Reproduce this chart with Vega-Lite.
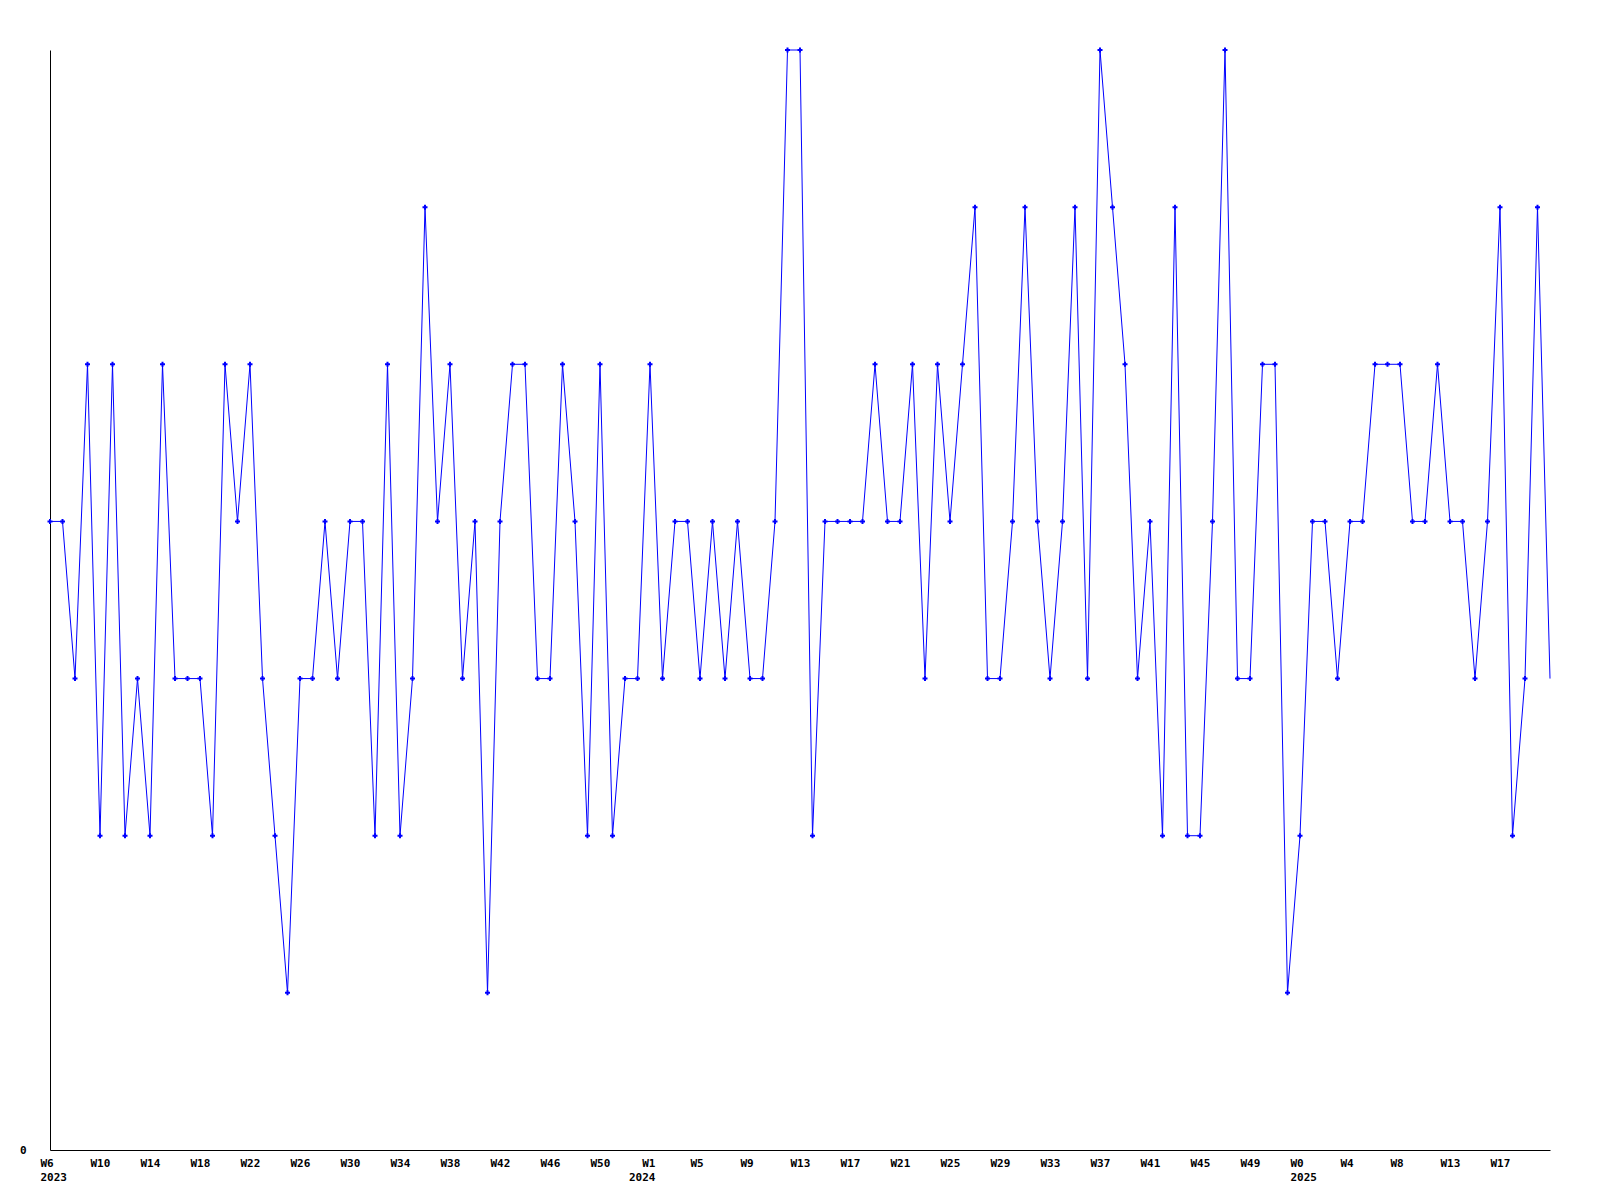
{
  "$schema": "https://vega.github.io/schema/vega-lite/v6.json",
  "width": 1500,
  "height": 1100,
  "autosize": {"type": "none"},
  "padding": {"left": 50, "top": 50, "right": 50, "bottom": 50},
  "background": "white",
  "config": {
    "view": {"stroke": null},
    "axis": {"labelFont": "DejaVu Sans Mono", "labelFontWeight": "bold", "labelFontSize": 11, "labelColor": "black", "domainColor": "black", "domainWidth": 1, "grid": false, "ticks": false, "title": null}
  },
  "data": {
    "format": {"parse": {"date": "date"}},
    "values": [
      {"date": "2023-02-05", "value": 4}, {"date": "2023-02-12", "value": 4}, {"date": "2023-02-19", "value": 3}, {"date": "2023-02-26", "value": 5},
      {"date": "2023-03-05", "value": 2}, {"date": "2023-03-12", "value": 5}, {"date": "2023-03-19", "value": 2}, {"date": "2023-03-26", "value": 3},
      {"date": "2023-04-02", "value": 2}, {"date": "2023-04-09", "value": 5}, {"date": "2023-04-16", "value": 3}, {"date": "2023-04-23", "value": 3}, {"date": "2023-04-30", "value": 3},
      {"date": "2023-05-07", "value": 2}, {"date": "2023-05-14", "value": 5}, {"date": "2023-05-21", "value": 4}, {"date": "2023-05-28", "value": 5},
      {"date": "2023-06-04", "value": 3}, {"date": "2023-06-11", "value": 2}, {"date": "2023-06-18", "value": 1}, {"date": "2023-06-25", "value": 3},
      {"date": "2023-07-02", "value": 3}, {"date": "2023-07-09", "value": 4}, {"date": "2023-07-16", "value": 3}, {"date": "2023-07-23", "value": 4}, {"date": "2023-07-30", "value": 4},
      {"date": "2023-08-06", "value": 2}, {"date": "2023-08-13", "value": 5}, {"date": "2023-08-20", "value": 2}, {"date": "2023-08-27", "value": 3},
      {"date": "2023-09-03", "value": 6}, {"date": "2023-09-10", "value": 4}, {"date": "2023-09-17", "value": 5}, {"date": "2023-09-24", "value": 3},
      {"date": "2023-10-01", "value": 4}, {"date": "2023-10-08", "value": 1}, {"date": "2023-10-15", "value": 4}, {"date": "2023-10-22", "value": 5}, {"date": "2023-10-29", "value": 5},
      {"date": "2023-11-05", "value": 3}, {"date": "2023-11-12", "value": 3}, {"date": "2023-11-19", "value": 5}, {"date": "2023-11-26", "value": 4},
      {"date": "2023-12-03", "value": 2}, {"date": "2023-12-10", "value": 5}, {"date": "2023-12-17", "value": 2}, {"date": "2023-12-24", "value": 3}, {"date": "2023-12-31", "value": 3},
      {"date": "2024-01-07", "value": 5}, {"date": "2024-01-14", "value": 3}, {"date": "2024-01-21", "value": 4}, {"date": "2024-01-28", "value": 4},
      {"date": "2024-02-04", "value": 3}, {"date": "2024-02-11", "value": 4}, {"date": "2024-02-18", "value": 3}, {"date": "2024-02-25", "value": 4},
      {"date": "2024-03-03", "value": 3}, {"date": "2024-03-10", "value": 3}, {"date": "2024-03-17", "value": 4}, {"date": "2024-03-24", "value": 7}, {"date": "2024-03-31", "value": 7},
      {"date": "2024-04-07", "value": 2}, {"date": "2024-04-14", "value": 4}, {"date": "2024-04-21", "value": 4}, {"date": "2024-04-28", "value": 4},
      {"date": "2024-05-05", "value": 4}, {"date": "2024-05-12", "value": 5}, {"date": "2024-05-19", "value": 4}, {"date": "2024-05-26", "value": 4},
      {"date": "2024-06-02", "value": 5}, {"date": "2024-06-09", "value": 3}, {"date": "2024-06-16", "value": 5}, {"date": "2024-06-23", "value": 4}, {"date": "2024-06-30", "value": 5},
      {"date": "2024-07-07", "value": 6}, {"date": "2024-07-14", "value": 3}, {"date": "2024-07-21", "value": 3}, {"date": "2024-07-28", "value": 4},
      {"date": "2024-08-04", "value": 6}, {"date": "2024-08-11", "value": 4}, {"date": "2024-08-18", "value": 3}, {"date": "2024-08-25", "value": 4},
      {"date": "2024-09-01", "value": 6}, {"date": "2024-09-08", "value": 3}, {"date": "2024-09-15", "value": 7}, {"date": "2024-09-22", "value": 6}, {"date": "2024-09-29", "value": 5},
      {"date": "2024-10-06", "value": 3}, {"date": "2024-10-13", "value": 4}, {"date": "2024-10-20", "value": 2}, {"date": "2024-10-27", "value": 6},
      {"date": "2024-11-03", "value": 2}, {"date": "2024-11-10", "value": 2}, {"date": "2024-11-17", "value": 4}, {"date": "2024-11-24", "value": 7},
      {"date": "2024-12-01", "value": 3}, {"date": "2024-12-08", "value": 3}, {"date": "2024-12-15", "value": 5}, {"date": "2024-12-22", "value": 5}, {"date": "2024-12-29", "value": 1},
      {"date": "2025-01-05", "value": 2}, {"date": "2025-01-12", "value": 4}, {"date": "2025-01-19", "value": 4}, {"date": "2025-01-26", "value": 3},
      {"date": "2025-02-02", "value": 4}, {"date": "2025-02-09", "value": 4}, {"date": "2025-02-16", "value": 5}, {"date": "2025-02-23", "value": 5},
      {"date": "2025-03-02", "value": 5}, {"date": "2025-03-09", "value": 4}, {"date": "2025-03-16", "value": 4}, {"date": "2025-03-23", "value": 5}, {"date": "2025-03-30", "value": 4},
      {"date": "2025-04-06", "value": 4}, {"date": "2025-04-13", "value": 3}, {"date": "2025-04-20", "value": 4}, {"date": "2025-04-27", "value": 6},
      {"date": "2025-05-04", "value": 2}, {"date": "2025-05-11", "value": 3}, {"date": "2025-05-18", "value": 6}, {"date": "2025-05-25", "value": 3}
    ]
  },
  "encoding": {
    "x": {
      "field": "date",
      "type": "temporal",
      "scale": {"type": "utc", "nice": false},
      "axis": {
        "values": [
          {"year": 2023, "month": 2, "date": 5, "utc": true}, {"year": 2023, "month": 3, "date": 5, "utc": true}, {"year": 2023, "month": 4, "date": 2, "utc": true}, {"year": 2023, "month": 4, "date": 30, "utc": true},
          {"year": 2023, "month": 5, "date": 28, "utc": true}, {"year": 2023, "month": 6, "date": 25, "utc": true}, {"year": 2023, "month": 7, "date": 23, "utc": true}, {"year": 2023, "month": 8, "date": 20, "utc": true},
          {"year": 2023, "month": 9, "date": 17, "utc": true}, {"year": 2023, "month": 10, "date": 15, "utc": true}, {"year": 2023, "month": 11, "date": 12, "utc": true}, {"year": 2023, "month": 12, "date": 10, "utc": true},
          {"year": 2024, "month": 1, "date": 7, "utc": true}, {"year": 2024, "month": 2, "date": 4, "utc": true}, {"year": 2024, "month": 3, "date": 3, "utc": true}, {"year": 2024, "month": 3, "date": 31, "utc": true},
          {"year": 2024, "month": 4, "date": 28, "utc": true}, {"year": 2024, "month": 5, "date": 26, "utc": true}, {"year": 2024, "month": 6, "date": 23, "utc": true}, {"year": 2024, "month": 7, "date": 21, "utc": true},
          {"year": 2024, "month": 8, "date": 18, "utc": true}, {"year": 2024, "month": 9, "date": 15, "utc": true}, {"year": 2024, "month": 10, "date": 13, "utc": true}, {"year": 2024, "month": 11, "date": 10, "utc": true},
          {"year": 2024, "month": 12, "date": 8, "utc": true}, {"year": 2025, "month": 1, "date": 5, "utc": true}, {"year": 2025, "month": 2, "date": 2, "utc": true}, {"year": 2025, "month": 3, "date": 2, "utc": true},
          {"year": 2025, "month": 3, "date": 30, "utc": true}, {"year": 2025, "month": 4, "date": 27, "utc": true}
        ],
        "labelExpr": "[['W6','2023'],'W10','W14','W18','W22','W26','W30','W34','W38','W42','W46','W50',['W1','2024'],'W5','W9','W13','W17','W21','W25','W29','W33','W37','W41','W45','W49',['W0','2025'],'W4','W8','W13','W17'][round((datum.value - utc(2023,1,5)) / 2419200000)]",
        "labelAlign": {"condition": {"test": "utcyear(datum.value) == 2024 && utcmonth(datum.value) == 0", "value": "right"}, "value": "left"},
        "labelOffset": {"condition": {"test": "utcyear(datum.value) == 2024 && utcmonth(datum.value) == 0", "value": 5}, "value": -10},
        "labelBaseline": "top",
        "labelPadding": 7,
        "labelLineHeight": 14,
        "labelFlush": false,
        "labelOverlap": false,
        "labelBound": false
      }
    },
    "y": {
      "field": "value",
      "type": "quantitative",
      "scale": {"domain": [0, 7], "nice": false, "zero": true},
      "axis": {"values": [0], "labelPadding": 24, "labelBaseline": "middle"}
    }
  },
  "layer": [
    {"mark": {"type": "line", "color": "#0000FF", "strokeWidth": 1, "interpolate": "linear"}},
    {
      "transform": [{"filter": "time(datum.date) < utc(2025,4,25)"}],
      "mark": {"type": "point", "shape": "cross", "size": 25, "filled": true, "color": "#0000FF", "opacity": 1}
    }
  ]
}
